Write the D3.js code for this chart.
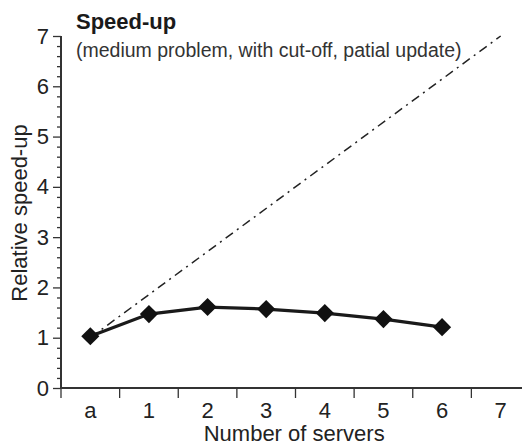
<!DOCTYPE html>
<html>
<head>
<meta charset="utf-8">
<script src="https://cdn.jsdelivr.net/npm/d3@7"></script>
<style>
  html, body { margin: 0; padding: 0; background: #fff; }
  svg { display: block; font-family: "Liberation Sans", Arial, Helvetica, sans-serif; }
</style>
</head>
<body>
<svg id="chart" width="522" height="445"></svg>
<script>
// Categories along the x axis ("a" = baseline run, then number of servers)
const categories = ["a", "1", "2", "3", "4", "5", "6", "7"];
// Measured relative speed-up for each configuration
const speedupCats = ["a", "1", "2", "3", "4", "5", "6"];
const speedupValues = [1.03, 1.47, 1.61, 1.57, 1.49, 1.37, 1.21];
// Ideal (linear) speed-up reference line endpoints
const idealCats = ["a", "7"];
const idealValues = [1, 7];
// Y axis tick labels
const yTicks = [0, 1, 2, 3, 4, 5, 6, 7];

const svg = d3.select("#chart");

const x = d3.scaleBand().domain(categories).range([61, 530]).padding(0);
const y = d3.scaleLinear().domain([0, 7]).range([388, 36]);
const cx = c => x(c) + x.bandwidth() / 2;

const axisColor = "#333";

// Y axis: minor ticks every 0.2
const yMinor = d3.range(0, 7.0001, 0.2).filter(v => Math.abs(v - Math.round(v)) > 1e-6);
const yAxisMinor = d3.axisLeft(y).tickValues(yMinor).tickSize(4).tickFormat("");
const gYMinor = svg.append("g").attr("transform", "translate(61,0)").call(yAxisMinor);
gYMinor.select(".domain").remove();

const yAxis = d3.axisLeft(y).tickValues(yTicks).tickSize(8).tickPadding(4).tickFormat(d3.format("d"));
const gY = svg.append("g").attr("transform", "translate(61,0)").call(yAxis);
gY.select(".domain").attr("d", `M0,${y(7)}V${y(0)}`);
[gY, gYMinor].forEach(g => {
  g.selectAll("line").attr("stroke", axisColor).attr("stroke-width", 1.3);
});
gY.select(".domain").attr("stroke", axisColor).attr("stroke-width", 2);
gY.selectAll("text").attr("font-size", 22).attr("fill", "#222").attr("font-family", "Liberation Sans, Arial, sans-serif");

// X axis: ticks on category boundaries, labels centred in each band
const gX = svg.append("g").attr("transform", `translate(0,${y(0)})`);
gX.append("line").attr("x1", 61).attr("x2", 530).attr("y1", 0).attr("y2", 0)
  .attr("stroke", axisColor).attr("stroke-width", 2);
gX.selectAll("line.tick").data(categories).join("line").attr("class", "tick")
  .attr("x1", d => x(d)).attr("x2", d => x(d)).attr("y1", 0).attr("y2", 10)
  .attr("stroke", axisColor).attr("stroke-width", 1.3);
gX.selectAll("text").data(categories).join("text")
  .attr("x", d => cx(d)).attr("y", 30).attr("text-anchor", "middle")
  .attr("font-size", 22).attr("fill", "#222").text(d => d);

// Ideal speed-up: dash-dot line
const line = d3.line().x(d => cx(d.c)).y(d => y(d.v));
const ideal = idealCats.map((c, i) => ({ c, v: idealValues[i] }));
svg.append("path").datum(ideal).attr("d", line)
  .attr("fill", "none").attr("stroke", "#222").attr("stroke-width", 1.5)
  .attr("stroke-dasharray", "9,5,2,5");

// Measured speed-up line with diamond markers
const measured = speedupCats.map((c, i) => ({ c, v: speedupValues[i] }));
svg.append("path").datum(measured).attr("d", line)
  .attr("fill", "none").attr("stroke", "#1a1a1a").attr("stroke-width", 3.2);
const diamond = d3.symbol().type(d3.symbolDiamond2).size(210);
svg.selectAll("path.pt").data(measured).join("path").attr("class", "pt")
  .attr("d", diamond)
  .attr("transform", d => `translate(${cx(d.c)},${y(d.v)})`)
  .attr("fill", "#111");

// Titles
svg.append("text").attr("x", 76).attr("y", 29).attr("font-size", 22).attr("font-weight", "bold")
  .attr("fill", "#1a1a1a").text("Speed-up");
svg.append("text").attr("x", 76).attr("y", 57).attr("font-size", 19.5)
  .attr("fill", "#333").text("(medium problem, with cut-off, patial update)");

svg.append("text").attr("x", cx("3") + 28).attr("y", 441).attr("text-anchor", "middle")
  .attr("font-size", 22).attr("fill", "#222").text("Number of servers");
svg.append("text").attr("transform", "translate(27,213) rotate(-90)").attr("text-anchor", "middle")
  .attr("font-size", 22).attr("fill", "#222").text("Relative speed-up");
</script>
</body>
</html>
